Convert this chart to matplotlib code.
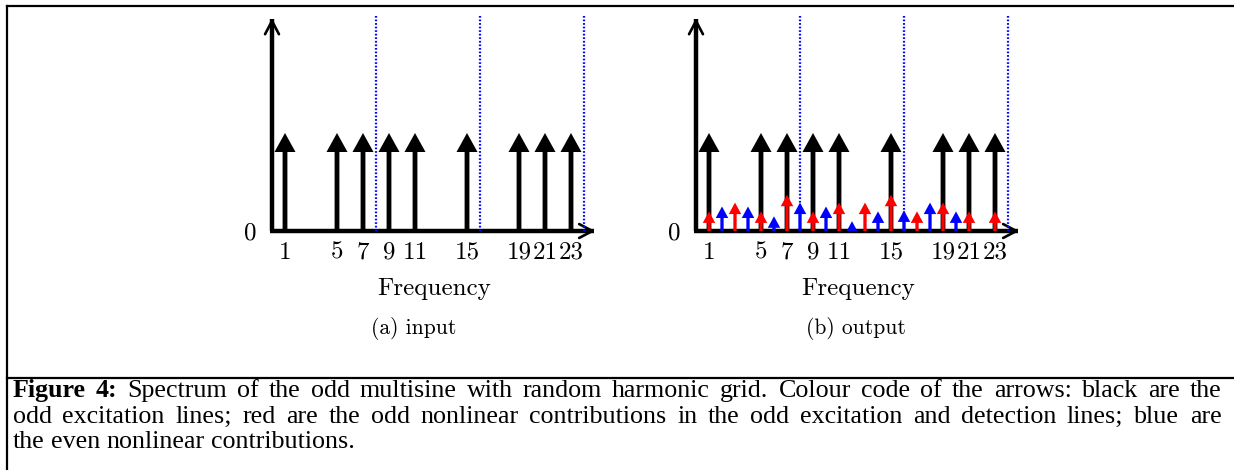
#!/usr/bin/env python3
"""Spectrum of the odd multisine: input and output arrows"""
import matplotlib
matplotlib.use("Agg")
import matplotlib.pyplot as plt
from matplotlib.lines import Line2D

# excitation lines (odd harmonics, random grid), amplitude of black arrows
harm_in = [1, 5, 7, 9, 11, 15, 19, 21, 23]
amp_in = [1.0, 1.0, 1.0, 1.0, 1.0, 1.0, 1.0, 1.0, 1.0]

# odd nonlinear contributions (red)
harm_odd = [1, 3, 5, 7, 9, 11, 13, 15, 17, 19, 21, 23]
amp_odd = [0.20, 0.29, 0.20, 0.37, 0.20, 0.29, 0.29, 0.37, 0.20, 0.29, 0.20, 0.20]

# even nonlinear contributions (blue)
harm_even = [2, 4, 6, 8, 10, 12, 14, 16, 18, 20]
amp_even = [0.25, 0.25, 0.15, 0.29, 0.25, 0.10, 0.20, 0.21, 0.29, 0.20]

# dotted grid of the random harmonic blocks
block_edges = [8, 16, 24]

tick_pos = [1, 5, 7, 9, 11, 15, 19, 21, 23]
tick_lab = ["1", "5", "7", "9", "11", "15", "19", "21", "23"]

panel_caps = ["(a) input", "(b) output"]
caption_bold = "Figure 4:"
caption_lines = [
    "Spectrum of the odd multisine with random harmonic grid. Colour code of the arrows: black are the",
    "odd excitation lines; red are the odd nonlinear contributions in the odd excitation and detection lines; blue are",
    "the even nonlinear contributions.",
]

plt.rcParams["font.family"] = "cmr10"
plt.rcParams["axes.unicode_minus"] = False

W, H = 1234, 470
fig = plt.figure(figsize=(W / 100, H / 100), dpi=100)


def px_box(x0, x1, ytop, ybot):
    return [x0 / W, 1 - ybot / H, (x1 - x0) / W, (ybot - ytop) / H]


def arrows(ax, xs, ys, color, shaft, hw, hl, z):
    ax.quiver(xs, [0] * len(xs), [0] * len(xs), ys, angles="xy",
              scale_units="xy", scale=1, units="dots", width=shaft,
              headwidth=hw / shaft, headlength=hl / shaft,
              headaxislength=hl / shaft, color=color, zorder=z)


def setup(ax, caption, cap_x):
    ax.set_xlim(0, 25)
    ax.set_ylim(0, 2.2)
    for s in ax.spines.values():
        s.set_visible(False)
    ax.patch.set_visible(False)
    # axis lines with open arrow heads
    ax.plot([0, 0], [0, 0.985], transform=ax.transAxes, color="black",
            lw=3.2, solid_capstyle="butt", clip_on=False, zorder=2)
    ax.plot([-0.006, 0.99], [0, 0], transform=ax.transAxes, color="black",
            lw=3.2, solid_capstyle="butt", clip_on=False, zorder=2)
    ax.annotate("", xy=(0, 1.0), xytext=(0, 0.9), xycoords="axes fraction",
                arrowprops=dict(arrowstyle="->,head_length=0.95,head_width=0.5",
                                lw=1.9, color="black", mutation_scale=10),
                annotation_clip=False)
    ax.annotate("", xy=(1.003, 0), xytext=(0.95, 0), xycoords="axes fraction",
                arrowprops=dict(arrowstyle="->,head_length=0.95,head_width=0.5",
                                lw=1.9, color="black", mutation_scale=10),
                annotation_clip=False)
    for e in block_edges:
        ax.axvline(e, ymin=0, ymax=1.0, color="#0000ff", lw=1.6,
                   ls=(0, (0.75, 0.85)), zorder=6, clip_on=False)
    ax.set_xticks(tick_pos, labels=tick_lab)
    ax.set_yticks([0], labels=["0"])
    ax.tick_params(axis="x", length=0, pad=7.5, labelsize=18)
    ax.tick_params(axis="y", length=0, pad=11, labelsize=18)
    ax.set_xlabel("Frequency", fontsize=18, labelpad=10)
    fig.text(cap_x / W, 1 - 328 / H, caption, fontsize=15.5,
             ha="center", va="center")


ax1 = fig.add_axes(px_box(272, 597, 15.4, 231))
setup(ax1, panel_caps[0], 414)
arrows(ax1, harm_in, amp_in, "black", 4.8, 21, 19, 3)

ax2 = fig.add_axes(px_box(696, 1021, 15.4, 231))
setup(ax2, panel_caps[1], 856)
arrows(ax2, harm_in, amp_in, "black", 4.8, 21, 19, 3)
arrows(ax2, harm_odd, amp_odd, "#ff0000", 3.3, 12.5, 11.5, 4)
arrows(ax2, harm_even, amp_even, "#0000ff", 3.3, 12.5, 11.5, 4)

# frame lines around figure and caption
for xs, ys in [([7, W], [5.5, 5.5]), ([7.3, 7.3], [5.5, H]), ([7, W], [378, 378])]:
    fig.add_artist(Line2D([x / W for x in xs], [1 - y / H for y in ys],
                          transform=fig.transFigure, color="black", lw=1.6))

# justified caption text
renderer = fig.canvas.get_renderer()
left, right = 12.5, 1221.5
baselines = [397, 423, 448.5]
cap_size = 18.7
for i, line in enumerate(caption_lines):
    words = [(w, False) for w in line.split()]
    if i == 0:
        words = [(w, True) for w in caption_bold.split()] + words
    texts = []
    for w, bold in words:
        t = fig.text(0, 1 - baselines[i] / H, w, fontsize=cap_size,
                     family="Liberation Serif",
                     fontweight="bold" if bold else "normal",
                     ha="left", va="baseline")
        texts.append(t)
    widths = [t.get_window_extent(renderer).width for t in texts]
    if i < len(caption_lines) - 1:
        gap = (right - left - sum(widths)) / (len(texts) - 1)
    else:
        gap = cap_size * 100 / 72 * 0.25
    x = left
    for t, w in zip(texts, widths):
        t.set_x(x / W)
        x += w + gap

fig.savefig("out.png", dpi=100)
